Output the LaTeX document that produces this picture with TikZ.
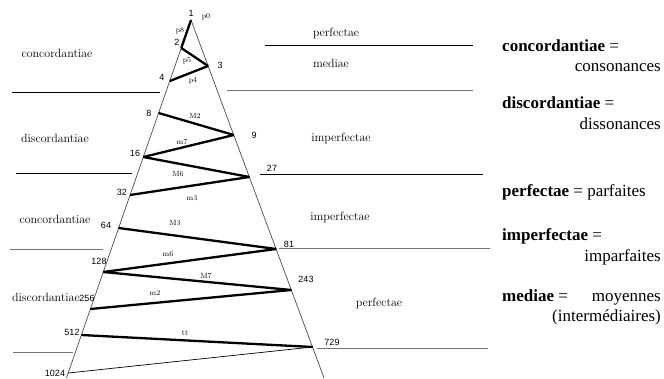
\documentclass[tikz,border=0pt]{standalone}
\usepackage{fontspec}
\newfontfamily\numf{Liberation Sans}
\newfontfamily\tnr{Liberation Serif}
\begin{document}
\begin{tikzpicture}[x=1pt,y=-1pt,
  edgeline/.style={draw=black!70, line width=0.7pt},
  ivline/.style={draw=black, line width=2.3pt},
  thinline/.style={draw=black, line width=0.7pt},
  hblack/.style={draw=black, line width=0.8pt},
  hgray/.style={draw=black!55, line width=1pt},
  num/.style={font=\numf\fontsize{9}{10}\selectfont, inner sep=0pt},
  ivl/.style={font=\fontsize{7.5}{8}\selectfont, inner sep=0pt},
  reg/.style={font=\fontsize{12}{14}\selectfont, inner sep=0pt},
  leg/.style={font=\tnr\fontsize{17}{20}\selectfont, inner sep=0pt}
]
\useasboundingbox (0,0) rectangle (664,379);
% triangle
\coordinate (apex) at (191,20);
\coordinate (lb) at (66.4,378);
\coordinate (rb) at (324,378);
\draw[edgeline] (apex) -- (lb);
\draw[edgeline] (apex) -- (rb);
% points
\coordinate (q1) at (191,20);
\coordinate (q2) at (181.3,48);
\coordinate (q3) at (208.1,66);
\coordinate (q4) at (169.8,81);
\coordinate (q8) at (158.6,113);
\coordinate (q9) at (233.8,135);
\coordinate (q16) at (143.3,157);
\coordinate (q27) at (249.4,177);
\coordinate (q32) at (130.1,195);
\coordinate (q64) at (118.6,228);
\coordinate (q81) at (276.2,249);
\coordinate (q128) at (103.3,272);
\coordinate (q243) at (291.4,290);
\coordinate (q256) at (90.4,309);
\coordinate (q512) at (81.4,335);
\coordinate (q729) at (312.6,347);
\coordinate (q1024) at (68.2,373);
% interval lines
\draw[ivline] (q1) -- (q2);
\draw[ivline] (q2) -- (q3);
\draw[ivline] (q3) -- (q4);
\draw[ivline] (q8) -- (q9);
\draw[ivline] (q9) -- (q16);
\draw[ivline] (q16) -- (q27);
\draw[ivline] (q27) -- (q32);
\draw[ivline] (q64) -- (q81);
\draw[ivline] (q81) -- (q128);
\draw[ivline] (q128) -- (q243);
\draw[ivline] (q243) -- (q256);
\draw[ivline] (q512) -- (q729);
\draw[thinline] (q729) -- (q1024);
% horizontal separators
\coordinate (l1a) at (12,92);  \coordinate (l1b) at (160,92);
\coordinate (r0a) at (265,45); \coordinate (r0b) at (473,45);
\coordinate (r1a) at (227,91); \coordinate (r1b) at (473,91);
\coordinate (l2a) at (16,173); \coordinate (l2b) at (132,173);
\coordinate (r2a) at (260,174); \coordinate (r2b) at (483,174);
\coordinate (l3a) at (10,250); \coordinate (l3b) at (103,250);
\coordinate (r3a) at (279,249); \coordinate (r3b) at (490,249);
\coordinate (l4a) at (13,352); \coordinate (l4b) at (73,352);
\coordinate (r4a) at (317,348); \coordinate (r4b) at (488,348);
\draw[hblack] (l1a) -- (l1b);
\draw[hblack] (r0a) -- (r0b);
\draw[hgray] (r1a) -- (r1b);
\draw[hblack] (l2a) -- (l2b);
\draw[hblack] (r2a) -- (r2b);
\draw[hgray] (l3a) -- (l3b);
\draw[hgray] (r3a) -- (r3b);
\draw[hgray] (l4a) -- (l4b);
\draw[hgray] (r4a) -- (r4b);
% numbers
\node[num] (n1) at (191,13) {1};
\node[num] (n2) at (177,42) {2};
\node[num] (n3) at (220,65) {3};
\node[num] (n4) at (162,77) {4};
\node[num] (n8) at (149,113) {8};
\node[num] (n9) at (254,135) {9};
\node[num] (n16) at (135,153) {16};
\node[num] (n27) at (272,168) {27};
\node[num] (n32) at (122,192) {32};
\node[num] (n64) at (106,225) {64};
\node[num] (n81) at (289,244) {81};
\node[num] (n128) at (99,261) {128};
\node[num] (n243) at (306,279) {243};
\node[num] (n256) at (87,298) {256};
\node[num] (n512) at (72,332) {512};
\node[num] (n729) at (332,342) {729};
\node[num] (n1024) at (55,373) {1024};
% interval labels
\node[ivl] (ip0) at (206,17) {p0};
\node[ivl] (ip8) at (180,31) {p8};
\node[ivl] (ip5) at (187,61) {p5};
\node[ivl] (ip4) at (193,81) {p4};
\node[ivl] (iM2) at (195,116) {M2};
\node[ivl] (im7) at (182,142) {m7};
\node[ivl] (iM6) at (178,174) {M6};
\node[ivl] (im3) at (192,198) {m3};
\node[ivl] (iM3) at (175,223) {M3};
\node[ivl] (im6) at (168,254) {m6};
\node[ivl] (iM7) at (206,276) {M7};
\node[ivl] (im2) at (155,293) {m2};
\node[ivl] (itt) at (185,333) {tt};
% region labels
\node[reg] (lc1) at (57,53) {concordantiae};
\node[reg] (ld1) at (55,138) {discordantiae};
\node[reg] (lc2) at (55,219) {concordantiae};
\node[reg] (ld2) at (46,297) {discordantiae};
\node[reg] (rp1) at (336,33) {perfectae};
\node[reg] (rm1) at (331,63) {mediae};
\node[reg] (ri1) at (341,138) {imperfectae};
\node[reg] (ri2) at (340,217) {imperfectae};
\node[reg] (rp2) at (379,303) {perfectae};
% legend
\node[leg, anchor=base west] (g1) at (502,52) {\textbf{concordantiae} =};
\node[leg, anchor=base east] (g1b) at (661,72) {consonances};
\node[leg, anchor=base west] (g2) at (502,109) {\textbf{discordantiae} =};
\node[leg, anchor=base east] (g2b) at (661,130) {dissonances};
\node[leg, anchor=base west] (g3) at (502,197) {\textbf{perfectae} = parfaites};
\node[leg, anchor=base west] (g4) at (502,241) {\textbf{imperfectae} =};
\node[leg, anchor=base east] (g4b) at (661,262) {imparfaites};
\node[leg, anchor=base west] (g5) at (502,302) {\textbf{mediae} =};
\node[leg, anchor=base east] (g5b) at (661,302) {moyennes};
\node[leg, anchor=base east] (g5c) at (661,322) {(intermédiaires)};
\end{tikzpicture}
\end{document}
